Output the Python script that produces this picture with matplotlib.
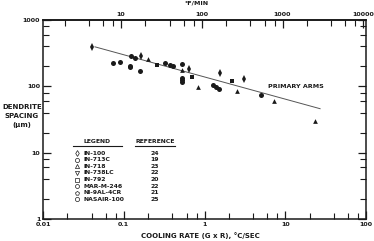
"""Dendrite arm spacing vs cooling rate (log-log) with legend table."""

import matplotlib

matplotlib.use("Agg")

import matplotlib.pyplot as plt
import numpy as np
from matplotlib.ticker import FixedLocator, NullFormatter

# data (cooling rate in C/sec, spacing in um)
in100_x = [0.040, 0.165, 0.65, 1.56, 3.12]
in100_y = [386, 288, 182, 157, 128]
in713c_x = [0.124, 0.136, 0.32, 0.52, 0.377, 0.405]
in713c_y = [288, 270, 223, 216, 210, 203]
in718_x = [0.20, 0.52, 0.84, 2.53, 7.3, 23.5]
in718_y = [257, 174, 98, 85, 60, 29.8]
in792_x = [0.258, 0.70, 2.2]
in792_y = [210, 138, 120]
marm246_x = [0.073, 0.089, 0.119, 0.119, 0.157]
marm246_y = [221, 233, 203, 195, 171]
ni9al_x = [0.53, 0.53, 0.53]
ni9al_y = [135, 124, 116]
nasair_x = [1.27, 1.39, 1.53, 5.0]
nasair_y = [103, 99, 92, 74]

fit_x = [0.044, 27.0]
fit_y = [394, 46]

legend_names = ["IN-100", "IN-713C", "IN-718", "IN-738LC", "IN-792",
                "MAR-M-246", "NI-9AL-4CR", "NASAIR-100"]
legend_refs = ["24", "19", "23", "22", "20", "22", "21", "25"]
legend_marks = ["d", "o", "^", "v", "s", "8", "p", "o"]

INK = "#1a1a1a"
plt.rcParams["font.family"] = ["Liberation Sans Narrow", "DejaVu Sans"]
plt.rcParams["font.weight"] = "bold"

fig = plt.figure(figsize=(3.74, 2.41), dpi=100)
ax = fig.add_axes([43 / 374, 22 / 241, 323 / 374, 199 / 241])
ax.set_xscale("log")
ax.set_yscale("log")
ax.set_xlim(0.01, 100)
ax.set_ylim(1, 1000)

ax.plot(fit_x, fit_y, color="#555555", linewidth=0.7, zorder=2)

series = [(in100_x, in100_y, "d", 4.0), (in713c_x, in713c_y, "o", 3.6),
          (in718_x, in718_y, "^", 3.4), (in792_x, in792_y, "s", 3.2),
          (marm246_x, marm246_y, "o", 3.6), (ni9al_x, ni9al_y, "o", 3.6),
          (nasair_x, nasair_y, "o", 3.6)]
for xs, ys, mk, ms in series:
    ax.plot(xs, ys, linestyle="none", marker=mk, markersize=ms,
            color=INK, markeredgewidth=0, zorder=3)

ax.text(6.2, 100, "PRIMARY ARMS", fontsize=4.6, color=INK,
        ha="left", va="center")

# axes and ticks
for side in ax.spines.values():
    side.set_linewidth(1.1)
    side.set_color(INK)
majors = [0.01, 0.1, 1, 10, 100]
minors = [m * d for d in [0.01, 0.1, 1, 10] for m in (2, 4, 6, 8)]
ax.xaxis.set_major_locator(FixedLocator(majors))
ax.xaxis.set_minor_locator(FixedLocator(minors))
ax.set_xticklabels(["0.01", "0.1", "1", "10", "100"])
ymaj = [1, 10, 100, 1000]
ymin = [m * d for d in [1, 10, 100] for m in (2, 4, 6, 8)]
ax.yaxis.set_major_locator(FixedLocator(ymaj))
ax.yaxis.set_minor_locator(FixedLocator(ymin))
ax.set_yticklabels(["1", "10", "100", "1000"])
ax.yaxis.set_minor_formatter(NullFormatter())
ax.xaxis.set_minor_formatter(NullFormatter())
ax.tick_params(which="both", direction="in", color=INK, labelsize=4.6,
               labelcolor=INK, pad=2, right=True, top=False)
ax.tick_params(which="major", length=6, width=0.9)
ax.tick_params(which="minor", length=4, width=0.8)

top = ax.secondary_xaxis("top", functions=(lambda v: v * 108.0,
                                            lambda v: v / 108.0))
top.xaxis.set_major_locator(FixedLocator([10, 100, 1000, 10000]))
top.xaxis.set_minor_locator(FixedLocator(
    [m * d for d in [1, 10, 100, 1000] for m in (2, 4, 6, 8)]))
top.set_xticklabels(["10", "100", "1000", "10000"])
top.xaxis.set_minor_formatter(NullFormatter())
top.tick_params(which="both", direction="in", color=INK, labelsize=4.6,
                labelcolor=INK, pad=2)
top.tick_params(which="major", length=6, width=0.9)
top.tick_params(which="minor", length=4, width=0.8)
top.spines["top"].set_linewidth(1.1)
fig.text(197 / 374, 1 - 3 / 241, "°F/MIN", fontsize=4.6, color=INK,
         ha="center", va="center")

fig.text(200 / 374, 1 - 236 / 241, "COOLING RATE (G x R), °C/SEC",
         fontsize=5, color=INK, ha="center", va="center")
fig.text(22 / 374, 1 - 116 / 241, "DENDRITE\nSPACING\n(µm)", fontsize=5,
         color=INK, ha="center", va="center", linespacing=1.6)


# legend table in axes fraction coordinates
def fx(px):
    return (px - 43) / 323


def fy(py):
    return (219 - py) / 199


tr = ax.transAxes
ax.text(fx(97), fy(141.5), "LEGEND", fontsize=4.4, color=INK,
        ha="center", va="center", transform=tr)
ax.text(fx(155), fy(141.5), "REFERENCE", fontsize=4.4, color=INK,
        ha="center", va="center", transform=tr)
ax.plot([fx(73), fx(122)], [fy(145.5), fy(145.5)], color=INK, lw=0.8,
        transform=tr)
ax.plot([fx(135), fx(175)], [fy(145.5), fy(145.5)], color=INK, lw=0.8,
        transform=tr)
row_y = np.arange(len(legend_names)) * 6.55 + 153.3
for ry, name, ref, mk in zip(row_y, legend_names, legend_refs, legend_marks):
    ax.plot([fx(77)], [fy(ry)], marker=mk, markersize=3.0, linestyle="none",
            markerfacecolor="white", markeredgecolor=INK,
            markeredgewidth=0.5, transform=tr)
    ax.text(fx(83), fy(ry), name, fontsize=4.4, color=INK, ha="left",
            va="center", transform=tr)
    ax.text(fx(155), fy(ry), ref, fontsize=4.4, color=INK, ha="center",
            va="center", transform=tr)

fig.savefig("out.png", dpi=100)
